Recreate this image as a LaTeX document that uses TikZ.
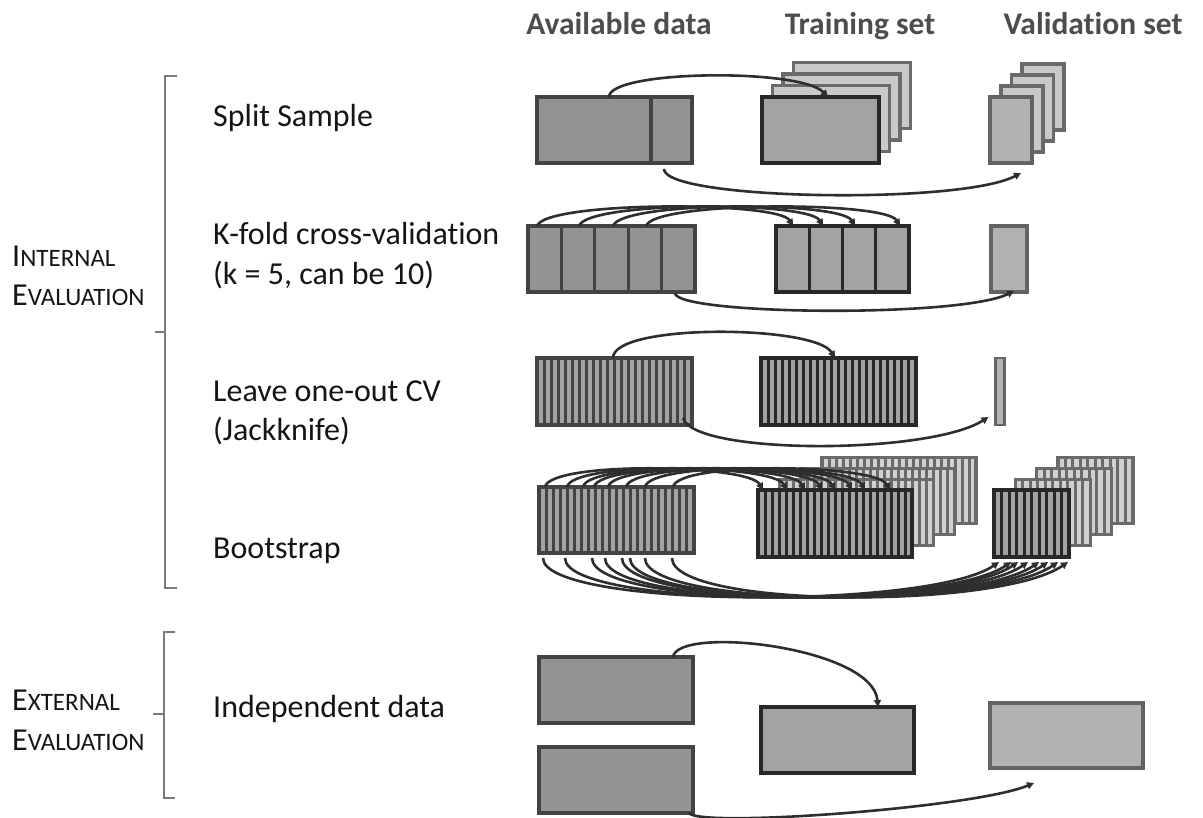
\documentclass[tikz,border=0pt]{standalone}
\usepackage{fontspec}
\setmainfont{Carlito}[Ligatures=NoCommon]
\usetikzlibrary{calc,arrows.meta}
\definecolor{avfill}{HTML}{939393}
\definecolor{avline}{HTML}{434343}
\definecolor{trfill}{HTML}{A3A3A3}
\definecolor{trline}{HTML}{282828}
\definecolor{vafill}{HTML}{B2B2B2}
\definecolor{valine}{HTML}{636363}
\definecolor{bkfill}{HTML}{C9C9C9}
\definecolor{bkline}{HTML}{6A6A6A}
\definecolor{arcol}{HTML}{2E2E2E}
\definecolor{labcol}{HTML}{151515}
\definecolor{hdrcol}{HTML}{4D4D4D}
\definecolor{brcol}{HTML}{7A7A7A}
\definecolor{stlight}{HTML}{A3A3A3}
\definecolor{stbklight}{HTML}{D0D0D0}
\newcommand\mystripes[3]{%
  \pgfmathtruncatemacro\nlines{#2-1}%
  \foreach \i in {1,...,\nlines}{%
    \pgfmathsetmacro\frac{\i/#2}%
    \draw[draw=#3,line width=3pt] ($(#1.south west)!\frac!(#1.south east)$) -- ($(#1.north west)!\frac!(#1.north east)$);
  }}
\tikzset{
  box/.style={draw, rectangle, inner sep=0pt, outer sep=0pt, line width=3.6pt, minimum height=66pt},
  avail/.style={box, fill=avfill, draw=avline},
  train/.style={box, fill=trfill, draw=trline, line width=4pt},
  valid/.style={box, fill=vafill, draw=valine},
  back/.style={box, fill=bkfill, draw=bkline},
  stav/.style={box, fill=stlight, draw=avline},
  sttr/.style={box, fill=stlight, draw=trline, line width=4pt},
  stbk/.style={box, fill=stbklight, draw=bkline},
  arr/.style={draw=arcol, line width=2.6pt, -{Triangle[length=7pt,width=7pt]}},
  lbl/.style={anchor=base west, inner sep=0pt, font=\fontsize{32}{38}\selectfont, text=labcol},
  hdr/.style={anchor=base, inner sep=0pt, font=\fontsize{31.5}{36}\selectfont\bfseries, text=hdrcol},
  brk/.style={draw=brcol, line width=1.8pt},
}
\newcommand\bigsc[2]{{\fontsize{32}{38}\selectfont #1}{\fontsize{25}{30}\selectfont #2}}
\begin{document}
\begin{tikzpicture}[x=1pt,y=-1pt]
\useasboundingbox (0,0) rectangle (1203,818);
\clip (0,0) rectangle (1203,818);
\fill[white] (0,0) rectangle (1203,818);

% headers
\node[hdr] (hAv) at (619,35) {Available data};
\node[hdr] (hTr) at (860,35) {Training set};
\node[hdr] (hVa) at (1093,35) {Validation set};

% left labels
\node[lbl] (lSplit) at (213,127) {Split Sample};
\node[lbl] (lKfoldA) at (213,245) {K-fold cross-validation};
\node[lbl] (lKfoldB) at (213,285) {(k = 5, can be 10)};
\node[lbl] (lLooA) at (213,402) {Leave one-out CV};
\node[lbl] (lLooB) at (213,441) {(Jackknife)};
\node[lbl] (lBoot) at (213,558) {Bootstrap};
\node[lbl] (lInd) at (213,717) {Independent data};

\node[anchor=base west, inner sep=0pt, text=labcol] (lIntA) at (12,267) {\bigsc{I}{NTERNAL}};
\node[anchor=base west, inner sep=0pt, text=labcol] (lIntB) at (12,306) {\bigsc{E}{VALUATION}};
\node[anchor=base west, inner sep=0pt, text=labcol] (lExtA) at (12,710) {\bigsc{E}{XTERNAL}};
\node[anchor=base west, inner sep=0pt, text=labcol] (lExtB) at (12,750) {\bigsc{E}{VALUATION}};

% brackets
\draw[brk] (177,76) -- (165,76) -- (165,588) -- (177,588);
\draw[brk] (165,332) -- (155,332);
\draw[brk] (175,632) -- (164,632) -- (164,798) -- (175,798);
\draw[brk] (164,714) -- (153,714);

% ---------- Split sample ----------
\node[avail, minimum width=155pt] (avS) at (614.5,130) {};
\draw[avline, line width=3.6pt] ([xshift=114pt]avS.south west) -- ([xshift=114pt]avS.north west);
\node[back, minimum width=117pt] (trS4) at (852,95.5) {};
\node[back, minimum width=117pt] (trS3) at (841.5,107) {};
\node[back, minimum width=117pt] (trS2) at (831,118.5) {};
\node[train, minimum width=117pt] (trS) at (820.5,130) {};
\node[back, minimum width=42pt] (vaS4) at (1043,97) {};
\node[back, minimum width=42pt] (vaS3) at (1032.4,108) {};
\node[back, minimum width=42pt] (vaS2) at (1021.7,119) {};
\node[valid, minimum width=42pt] (vaS) at (1011,130) {};
\draw[arr] ([xshift=72pt]avS.north west) .. controls +(0,-27) and +(-28,-29) .. ([xshift=66pt]trS.north west);
\draw[arr] ([xshift=127pt,yshift=-6pt]avS.south west) .. controls +(0,31) and +(-61,32) .. ([xshift=-11pt,yshift=-10pt]vaS.south east);

% ---------- K-fold ----------
\node[avail, minimum width=167pt] (avK) at (611.5,259) {};
\mystripes{avK}{5}{avline}
\node[train, minimum width=133pt] (trK) at (842.5,259) {};
\mystripes{trK}{4}{trline}
\node[valid, minimum width=36pt] (vaK) at (1009,259) {};
\foreach \s/\e in {9/17, 51/47, 85/79, 118/124}{
  \draw[arr] ([xshift=\s pt]avK.north west) .. controls +(8,-25) and +(-15,-25) .. ([xshift=\e pt]trK.north west);
}
\draw[arr] ([xshift=147pt,yshift=-1pt]avK.south west) .. controls +(0,22) and +(-54,27) .. ([xshift=-13pt,yshift=1pt]vaK.south east);

% ---------- Leave one out ----------
\node[stav, minimum width=155pt, minimum height=67pt] (avL) at (614.5,391.5) {};
\mystripes{avL}{22}{avline}
\node[sttr, minimum width=155pt, minimum height=67pt] (trL) at (838.5,391.5) {};
\mystripes{trL}{22}{trline}
\node[valid, minimum width=9pt, minimum height=67pt, line width=2.6pt] (vaL) at (1000,391.5) {};
\draw[arr] ([xshift=76pt]avL.north west) .. controls +(0,-35) and +(-20,-33) .. ([xshift=74pt]trL.north west);
\draw[arr] ([xshift=-9pt,yshift=7pt]avL.south east) .. controls +(10,37) and +(-60,38) .. ([xshift=-7pt,yshift=8pt]vaL.south west);

% ---------- Bootstrap ----------
\node[stav, minimum width=155pt] (avB) at (616.5,520) {};
\mystripes{avB}{22}{avline}
\node[stbk, minimum width=154pt] (trB4) at (899,490.5) {};
\mystripes{trB4}{22}{bkline}
\node[stbk, minimum width=154pt] (trB3) at (877.6,501.5) {};
\mystripes{trB3}{22}{bkline}
\node[stbk, minimum width=154pt] (trB2) at (856.3,512.5) {};
\mystripes{trB2}{22}{bkline}
\node[sttr, minimum width=154pt, minimum height=67pt] (trB) at (835,523.5) {};
\mystripes{trB}{22}{trline}
\node[stbk, minimum width=75pt] (vaB4) at (1095.4,490.5) {};
\mystripes{vaB4}{10}{bkline}
\node[stbk, minimum width=75pt] (vaB3) at (1074.1,501.5) {};
\mystripes{vaB3}{10}{bkline}
\node[stbk, minimum width=75pt] (vaB2) at (1052.8,512.5) {};
\mystripes{vaB2}{10}{bkline}
\node[sttr, minimum width=75pt, minimum height=67pt] (vaB) at (1031.5,523.5) {};
\mystripes{vaB}{10}{trline}
\foreach \s/\e in {6/5, 28/29, 44/47, 55/64, 69/77, 87/94, 106/107, 134/132}{
  \draw[arr] ([xshift=\s pt]avB.north west) .. controls +(5,-26) and +(-15,-26) .. ([xshift=\e pt]trB.north west);
}
\foreach \s/\e in {4/5, 26/17, 53/24, 66/34, 83/45, 91/54, 106/64, 133/74}{
  \draw[arr] ([xshift=\s pt,yshift=-5pt]avB.south west) .. controls +(0,50) and +(-70,48) .. ([xshift=\e pt,yshift=-5pt]vaB.south west);
}

% ---------- External ----------
\node[avail, minimum width=154pt] (exA1) at (616,690) {};
\node[avail, minimum width=154pt] (exA2) at (616,780) {};
\node[train, minimum width=153pt] (exT) at (837.5,740) {};
\node[valid, minimum width=153pt, minimum height=65pt] (exV) at (1066.5,735.5) {};
\draw[arr] ([xshift=134pt]exA1.north west) .. controls +(5,-32) and +(-5,-60) .. ([xshift=117pt]exT.north west);
\draw[arr] ([xshift=-4pt]exA2.south east) .. controls +(10,15) and +(-60,25) .. ([xshift=44pt,yshift=-15pt]exV.south west);
\end{tikzpicture}
\end{document}
